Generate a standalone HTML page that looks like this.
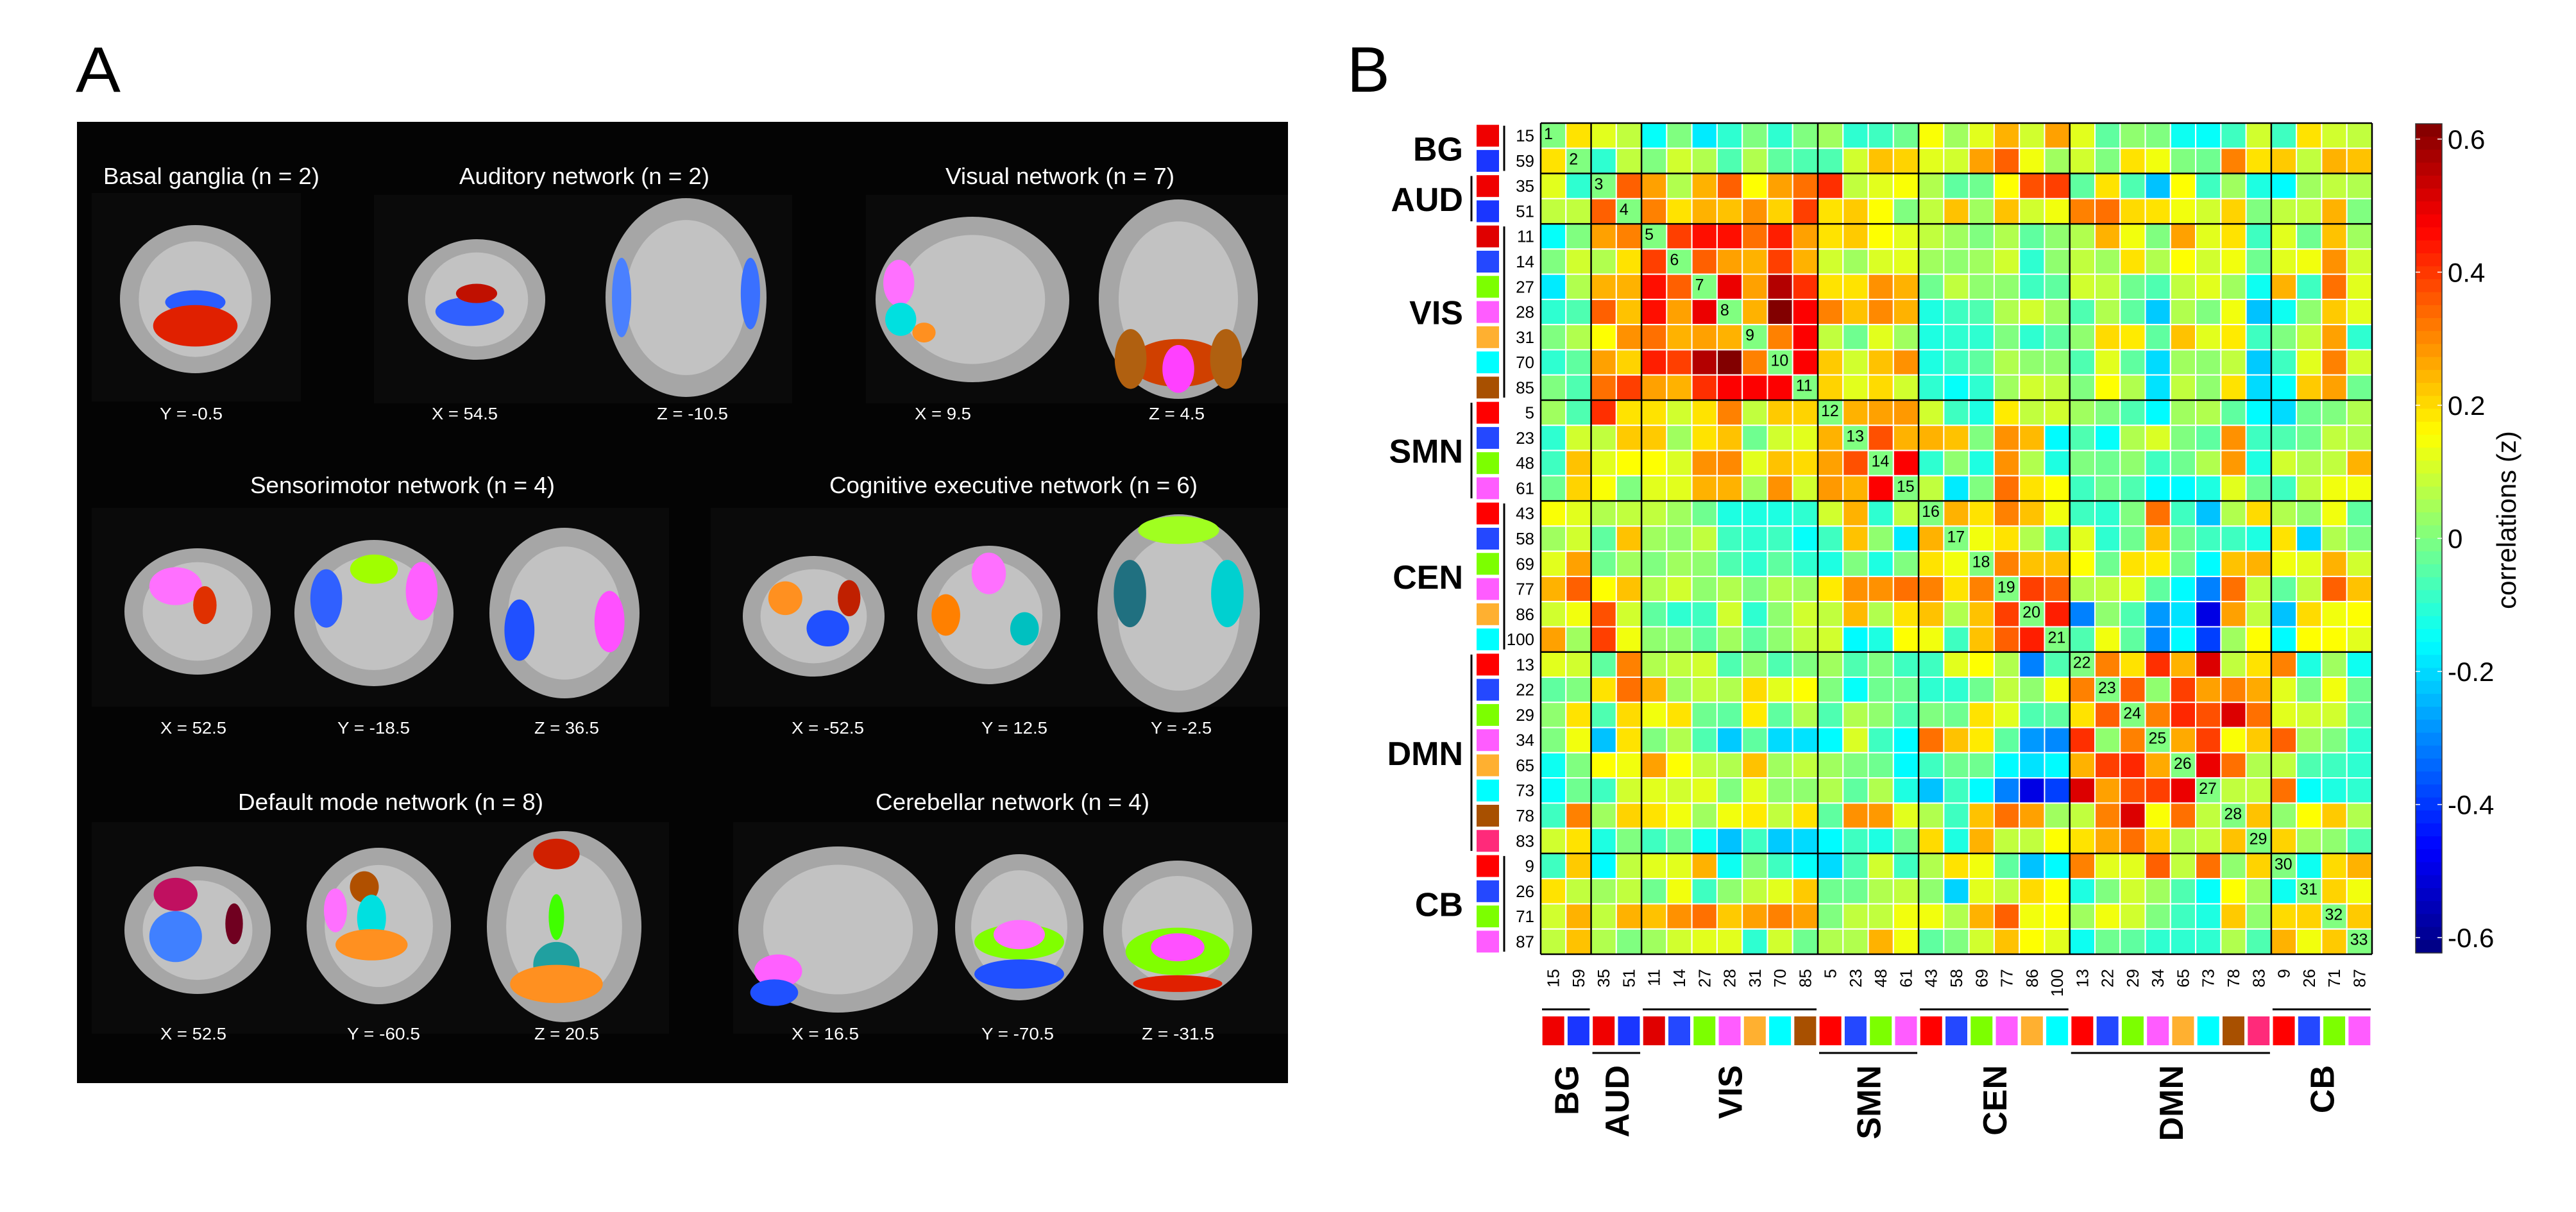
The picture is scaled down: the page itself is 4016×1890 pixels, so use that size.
<!DOCTYPE html>
<html><head><meta charset="utf-8">
<style>
html,body{margin:0;padding:0;background:#fff;}
svg{display:block;}
</style></head>
<body>
<svg id="fig" width="4016" height="1890" viewBox="0 0 4016 1890" xmlns="http://www.w3.org/2000/svg" font-family="Liberation Sans, Arial, sans-serif">
<rect width="4016" height="1890" fill="#fff"/>
<!-- Panel A -->
<g id="panelA">
<text x="118" y="143" font-size="100" textLength="70" lengthAdjust="spacingAndGlyphs">A</text>
<rect x="120" y="190" width="1888" height="1499" fill="#040404"/>
<g fill="#0a0a0a">
<rect x="143" y="301" width="326" height="325"/><rect x="583" y="304" width="652" height="325"/><rect x="1350" y="304" width="658" height="325"/>
<rect x="143" y="792" width="900" height="310"/><rect x="1108" y="792" width="900" height="310"/>
<rect x="143" y="1282" width="900" height="330"/><rect x="1143" y="1282" width="865" height="330"/>
</g>
<g fill="#fff" font-size="36">
<text x="161" y="287" textLength="337" lengthAdjust="spacingAndGlyphs">Basal ganglia (n = 2)</text>
<text x="716" y="287" textLength="390" lengthAdjust="spacingAndGlyphs">Auditory network (n = 2)</text>
<text x="1474" y="287" textLength="357" lengthAdjust="spacingAndGlyphs">Visual network (n = 7)</text>
<text x="390" y="769" textLength="475" lengthAdjust="spacingAndGlyphs">Sensorimotor network (n = 4)</text>
<text x="1293" y="769" textLength="574" lengthAdjust="spacingAndGlyphs">Cognitive executive network (n = 6)</text>
<text x="371" y="1263" textLength="476" lengthAdjust="spacingAndGlyphs">Default mode network (n = 8)</text>
<text x="1365" y="1263" textLength="427" lengthAdjust="spacingAndGlyphs">Cerebellar network (n = 4)</text>
</g>
<g fill="#fff" font-size="26">
<text x="249" y="654" textLength="98" lengthAdjust="spacingAndGlyphs">Y = -0.5</text>
<text x="673" y="654" textLength="103" lengthAdjust="spacingAndGlyphs">X = 54.5</text>
<text x="1024" y="654" textLength="111" lengthAdjust="spacingAndGlyphs">Z = -10.5</text>
<text x="1426" y="654" textLength="88" lengthAdjust="spacingAndGlyphs">X = 9.5</text>
<text x="1791" y="654" textLength="87" lengthAdjust="spacingAndGlyphs">Z = 4.5</text>
<text x="250" y="1144" textLength="103" lengthAdjust="spacingAndGlyphs">X = 52.5</text>
<text x="526" y="1144" textLength="113" lengthAdjust="spacingAndGlyphs">Y = -18.5</text>
<text x="833" y="1144" textLength="101" lengthAdjust="spacingAndGlyphs">Z = 36.5</text>
<text x="1234" y="1144" textLength="113" lengthAdjust="spacingAndGlyphs">X = -52.5</text>
<text x="1530" y="1144" textLength="103" lengthAdjust="spacingAndGlyphs">Y = 12.5</text>
<text x="1794" y="1144" textLength="95" lengthAdjust="spacingAndGlyphs">Y = -2.5</text>
<text x="250" y="1621" textLength="103" lengthAdjust="spacingAndGlyphs">X = 52.5</text>
<text x="541" y="1621" textLength="114" lengthAdjust="spacingAndGlyphs">Y = -60.5</text>
<text x="833" y="1621" textLength="101" lengthAdjust="spacingAndGlyphs">Z = 20.5</text>
<text x="1234" y="1621" textLength="105" lengthAdjust="spacingAndGlyphs">X = 16.5</text>
<text x="1530" y="1621" textLength="113" lengthAdjust="spacingAndGlyphs">Y = -70.5</text>
<text x="1780" y="1621" textLength="113" lengthAdjust="spacingAndGlyphs">Z = -31.5</text>
</g>
<g id="brains"></g>
</g>
<!-- Panel B -->
<g id="panelB">
<text x="2100" y="143" font-size="100">B</text>
<g id="heat"></g>
<g id="rowlab"></g><g id="collab"></g>
<g id="cbar"></g>
</g>
</svg>
<script>
const NS='http://www.w3.org/2000/svg';
function mk(parent,tag,attrs){const e=document.createElementNS(NS,tag);for(const k in attrs)e.setAttribute(k,attrs[k]);parent.appendChild(e);return e;}

/* ---- chart data ---- */
const componentLabels=['15','59','35','51','11','14','27','28','31','70','85','5','23','48','61','43','58','69','77','86','100','13','22','29','34','65','73','78','83','9','26','71','87'];
const groupNames=['BG','AUD','VIS','SMN','CEN','DMN','CB'];
const groupSizes=[2,2,7,4,6,8,4];
const componentColors=['#f00000','#1a36ff','#f00000','#1a36ff','#e00000','#2448ff','#7cff00','#ff5cff','#ffb030','#00ffff','#a85000','#ff0000','#2448ff','#7cff00','#ff5cff','#ff0000','#2448ff','#7cff00','#ff5cff','#ffb030','#00ffff','#ff0000','#2448ff','#7cff00','#ff5cff','#ffb030','#00ffff','#a85000','#ff2a7a','#ff0000','#2448ff','#7cff00','#ff5cff'];
const colorbarTicks=[0.6,0.4,0.2,0,-0.2,-0.4,-0.6];
const colorbarTickLabels=['0.6','0.4','0.2','0','-0.2','-0.4','-0.6'];
// upper triangle (row i, columns i+1..33)
const upperTriangle=[
[.19,.12,.08,-.15,0,-.18,-.1,0,-.1,0,.04,-.1,-.08,-.02,.15,.04,.12,.25,.1,.27,.12,-.04,.02,0,-.14,-.15,-.08,.1,-.08,.19,.1,.08],
[-.1,.08,0,.1,.06,-.06,.06,-.04,-.06,-.06,.1,.23,.21,.12,.1,.27,.35,.14,.04,.1,0,.19,.14,0,-.02,.31,.19,.22,.08,.25,.23],
[.35,.27,.06,.25,.35,.155,.27,.33,.41,.08,.12,.15,.06,-.04,-.02,.155,.37,.39,-.04,.19,-.06,-.23,.155,-.08,.04,-.12,-.16,.04,.08,.06],
[.31,.19,.25,.23,.29,.21,.39,.19,.22,.155,0,.08,.23,.04,.23,.1,.14,.31,.33,.2,.19,.14,.1,.21,0,.08,.08,.25,0],
[.39,.45,.45,.33,.43,.27,.19,.22,.155,.12,.08,.04,0,.06,-.04,.02,.06,.25,.14,0,.27,.12,.19,-.08,.12,-.02,.23,.04],
[.35,.27,.25,.39,.25,.1,.04,.11,.12,.04,.02,.04,.1,-.1,.02,.08,.04,.19,.06,.155,.1,.14,-.02,.12,.14,.29,.1],
[.49,.27,.56,.41,.19,.19,.29,.25,-.02,.08,.02,.02,-.08,-.04,.1,.08,-.02,-.06,.08,.12,.04,-.14,.25,-.08,.33,.12],
[.25,.62,.47,.31,.23,.3,.25,-.12,-.08,-.06,.06,.1,.04,-.06,.06,-.04,-.22,.06,0,.14,-.23,-.14,.02,.22,.12],
[.31,.47,.08,-.02,.12,.04,-.12,-.1,-.1,0,-.1,-.04,.02,.2,.18,-.04,.23,.12,.18,-.08,0,.08,.27,-.1],
[.47,.22,.1,.23,.29,-.12,-.08,-.04,.06,.02,.02,-.06,.12,-.04,-.2,.04,.02,.08,-.22,-.08,.12,.31,.1],
[.21,.12,.2,.1,-.1,-.15,-.1,.04,.1,.08,0,.155,.06,-.19,.08,.02,.19,-.2,-.15,.22,.27,-.02],
[.25,.27,.28,.1,-.08,-.12,.18,.08,.1,.04,0,-.06,-.16,.04,.06,-.04,-.16,-.2,-.02,0,.06],
[.37,.25,.25,.23,0,.29,.24,-.16,-.06,-.15,.06,.11,0,-.04,.29,-.08,-.06,-.02,.08,.06],
[.47,-.1,.02,-.12,.29,.06,-.12,0,-.02,.02,-.08,-.02,.06,.28,-.12,.1,.06,.08,.25],
[.08,-.18,0,.33,.19,.155,-.08,-.02,-.06,-.16,-.16,-.12,.12,-.02,-.08,.08,.14,.14],
[.25,.19,.31,.23,.14,-.08,-.1,0,.33,-.08,-.23,.06,.2,.06,.02,.14,-.04],
[.14,.19,.06,-.08,.12,-.1,-.02,.23,-.02,-.08,-.08,-.12,.19,-.21,.06,0],
[.31,.23,.23,.155,-.02,.19,.18,-.02,-.16,.23,.25,.14,.12,.25,.1],
[.39,.35,.06,.08,.12,-.04,-.16,-.31,.33,.08,-.04,.08,.35,.23],
[.43,-.31,.02,-.06,-.28,-.19,-.5,.27,.08,-.23,.2,.14,.155],
[-.06,.14,-.04,-.3,-.16,-.39,.04,.155,-.16,.155,.155,.12],
[.31,.19,.41,.25,.51,.08,.19,.31,-.12,.04,-.14],
[.35,.02,.39,.27,.31,.26,.12,0,.14,-.02],
[.31,.42,.37,.51,.33,.12,.1,.1,-.04],
[.26,.39,.15,.22,.35,.04,0,-.1],
[.49,.33,.06,.08,-.06,-.08,-.1],
[.08,.08,.33,-.15,-.12,-.1],
[.23,.02,.155,.22,.06],
[.21,.04,.02,-.06],
[-.14,.2,.25],
[.21,.14],
[.22]
];

/* ---- scales ---- */
const N=componentLabels.length;
const X0=2402,Y0=192,W=1296,CS=W/N;
const VMIN=-0.623,VMAX=0.623;
const CB_X=3766,CB_W=41,CB_Y0=193,CB_Y1=1486;
function xOf(j){return X0+j*CS;}
function yOf(i){return Y0+i*CS;}
function cbY(v){return CB_Y0+(VMAX-v)/(VMAX-VMIN)*(CB_Y1-CB_Y0);}
function clamp(a){return Math.max(0,Math.min(1,a));}
function jet(v){const t=clamp((v-VMIN)/(VMAX-VMIN));
 const r=clamp(1.5-Math.abs(4*t-3)),g=clamp(1.5-Math.abs(4*t-2)),b=clamp(1.5-Math.abs(4*t-1));
 return 'rgb('+Math.round(r*255)+','+Math.round(g*255)+','+Math.round(b*255)+')';}

const M=[];for(let i=0;i<N;i++){M.push(new Array(N).fill(0));}
for(let i=0;i<upperTriangle.length;i++){for(let k=0;k<upperTriangle[i].length;k++){const j=i+1+k;M[i][j]=upperTriangle[i][k];M[j][i]=upperTriangle[i][k];}}

const heat=document.getElementById('heat');
for(let i=0;i<N;i++){for(let j=0;j<N;j++){
 const c=mk(heat,'rect',{x:xOf(j),y:yOf(i),width:CS,height:CS,fill:jet(M[i][j]),stroke:'#fff','stroke-width':2});
 
 
 if(i===j){const t=mk(heat,'text',{x:xOf(j)+5,y:yOf(i)+25,'font-size':25,fill:'#000'});t.textContent=String(i+1);
  
  }
}}
// group boundaries
let acc=0;const bounds=[0];for(const s of groupSizes){acc+=s;bounds.push(acc);}
for(const b of bounds){
 mk(heat,'line',{x1:X0,x2:X0+W,y1:yOf(b),y2:yOf(b),stroke:'#000','stroke-width':2.5});
 mk(heat,'line',{y1:Y0,y2:Y0+W,x1:xOf(b),x2:xOf(b),stroke:'#000','stroke-width':2.5});
}

// labels
const rl=document.getElementById('rowlab'),cl=document.getElementById('collab');
for(let i=0;i<N;i++){
 const cy=yOf(i)+CS/2,cx=xOf(i)+CS/2;
 const t=mk(rl,'text',{x:2392,y:cy+9,'font-size':26,'text-anchor':'end'});t.textContent=componentLabels[i];
 
 
 const s=mk(rl,'rect',{x:2302,y:cy-17,width:35,height:34,fill:componentColors[i]});
 
 
 const ct=mk(cl,'text',{transform:'translate('+(cx+9)+',1511) rotate(-90)','font-size':26,'text-anchor':'end'});ct.textContent=componentLabels[i];
 
 
 const cs=mk(cl,'rect',{x:cx-17,y:1585,width:34,height:45,fill:componentColors[i]});
 
 
}
for(let g=0;g<groupNames.length;g++){
 const a=bounds[g],b=bounds[g+1];const mid=(a+b)/2;
 const rowMid=Y0+mid*CS,colMid=X0+mid*CS;
 const right=(g%2===0);
 const lx=right?2345:2294;
 mk(rl,'line',{x1:lx,x2:lx,y1:yOf(a)+4,y2:yOf(b)-4,stroke:'#000','stroke-width':3});
 const ly=right?1574:1642;
 mk(cl,'line',{y1:ly,y2:ly,x1:xOf(a)+2,x2:xOf(b)-2,stroke:'#000','stroke-width':3});
 const t=mk(rl,'text',{x:2281,y:rowMid+19,'font-size':52,'font-weight':'bold','text-anchor':'end'});t.textContent=groupNames[g];
 
 
 const t2=mk(cl,'text',{transform:'translate('+(colMid+19)+',1661) rotate(-90)','font-size':52,'font-weight':'bold','text-anchor':'end'});t2.textContent=groupNames[g];
 
 
}

// colorbar
const cb=document.getElementById('cbar');
const steps=64;
for(let k=0;k<steps;k++){const v1=VMAX-(VMAX-VMIN)*k/steps,v2=VMAX-(VMAX-VMIN)*(k+1)/steps;
 mk(cb,'rect',{x:CB_X,y:cbY(v1),width:CB_W,height:cbY(v2)-cbY(v1)+0.6,fill:jet((v1+v2)/2)});}
mk(cb,'rect',{x:CB_X,y:CB_Y0,width:CB_W,height:CB_Y1-CB_Y0,fill:'none',stroke:'#333','stroke-width':1.5});
for(let k=0;k<colorbarTicks.length;k++){const y=cbY(colorbarTicks[k]);
 mk(cb,'line',{x1:CB_X,x2:CB_X+7,y1:y,y2:y,stroke:'#fff','stroke-width':1.5});
 mk(cb,'line',{x1:CB_X+CB_W-7,x2:CB_X+CB_W,y1:y,y2:y,stroke:'#fff','stroke-width':1.5});
 const t=mk(cb,'text',{x:3816,y:y+15,'font-size':42});t.textContent=colorbarTickLabels[k];
 
 }
const ct=mk(cb,'text',{transform:'translate(3922,811) rotate(-90)','font-size':42,'text-anchor':'middle'});ct.textContent='correlations (z)';



// brain slices (approximate shapes)
const br=document.getElementById('brains');
const brainBoxes=[[187,351,422,582],[636,373,850,561],[944,309,1195,619],[1365,338,1667,596],[1713,311,1961,622],
[194,855,422,1052],[459,842,707,1070],[763,823,997,1089],[1158,867,1379,1055],[1430,851,1653,1067],[1711,802,1964,1111],
[194,1351,422,1550],[478,1322,703,1566],[759,1296,1000,1594],[1151,1320,1462,1579],[1489,1332,1689,1560],[1720,1342,1952,1560]];
const blobs=[
[[0.5,0.52,0.2,0.08,'#2a5cff'],[0.5,0.68,0.28,0.14,'#e02000']],
[[0.45,0.6,0.25,0.12,'#3060ff'],[0.5,0.45,0.15,0.08,'#c01000']],
[[0.1,0.5,0.06,0.2,'#4a80ff'],[0.9,0.48,0.06,0.18,'#3a70ff']],
[[0.12,0.4,0.08,0.14,'#ff70ff'],[0.13,0.62,0.08,0.1,'#00e0e0'],[0.25,0.7,0.06,0.06,'#ff9020']],
[[0.5,0.82,0.3,0.12,'#d04000'],[0.5,0.85,0.1,0.12,'#ff40ff'],[0.2,0.8,0.1,0.15,'#b06010'],[0.8,0.8,0.1,0.15,'#b06010']],
[[0.35,0.3,0.18,0.15,'#ff70ff'],[0.55,0.45,0.08,0.15,'#e03000']],
[[0.5,0.2,0.15,0.1,'#a0ff00'],[0.2,0.4,0.1,0.2,'#3060ff'],[0.8,0.35,0.1,0.2,'#ff60ff']],
[[0.2,0.6,0.1,0.18,'#2050ff'],[0.8,0.55,0.1,0.18,'#ff50ff']],
[[0.3,0.35,0.12,0.14,'#ff9020'],[0.6,0.6,0.15,0.15,'#2050ff'],[0.75,0.35,0.08,0.15,'#c02000']],
[[0.5,0.2,0.12,0.15,'#ff70ff'],[0.2,0.5,0.1,0.15,'#ff8000'],[0.75,0.6,0.1,0.12,'#00c0c0']],
[[0.5,0.08,0.25,0.07,'#a0ff20'],[0.2,0.4,0.1,0.17,'#207080'],[0.8,0.4,0.1,0.17,'#00d0d0']],
[[0.35,0.22,0.15,0.13,'#c01060'],[0.35,0.55,0.18,0.2,'#4080ff'],[0.75,0.45,0.06,0.16,'#700020']],
[[0.4,0.25,0.1,0.1,'#b05000'],[0.45,0.45,0.1,0.15,'#00e0e0'],[0.45,0.62,0.25,0.1,'#ff9020'],[0.2,0.4,0.08,0.14,'#ff70ff']],
[[0.45,0.12,0.15,0.08,'#d02000'],[0.45,0.7,0.15,0.12,'#20a0a0'],[0.45,0.8,0.3,0.1,'#ff9020'],[0.45,0.45,0.05,0.12,'#40ff00']],
[[0.2,0.75,0.12,0.1,'#ff60ff'],[0.18,0.88,0.12,0.08,'#2050ff']],
[[0.5,0.6,0.35,0.12,'#80ff00'],[0.5,0.55,0.2,0.1,'#ff70ff'],[0.5,0.82,0.35,0.1,'#2050ff']],
[[0.5,0.65,0.35,0.17,'#80ff00'],[0.5,0.62,0.18,0.1,'#ff50ff'],[0.5,0.88,0.3,0.06,'#e02000']]
];
for(let k=0;k<brainBoxes.length;k++){const [x0,y0,x1,y1]=brainBoxes[k];const cx=(x0+x1)/2,cy=(y0+y1)/2,rx=(x1-x0)/2,ry=(y1-y0)/2;
 const e=mk(br,'ellipse',{cx:cx,cy:cy,rx:rx,ry:ry,fill:'#a6a6a6'});
 
 
 mk(br,'ellipse',{cx:cx,cy:cy,rx:rx*0.75,ry:ry*0.78,fill:'#c2c2c2'});
 for(const b of blobs[k]){mk(br,'ellipse',{cx:x0+b[0]*(x1-x0),cy:y0+b[1]*(y1-y0),rx:b[2]*(x1-x0),ry:b[3]*(y1-y0),fill:b[4]});}
}
</script>
</body></html>
